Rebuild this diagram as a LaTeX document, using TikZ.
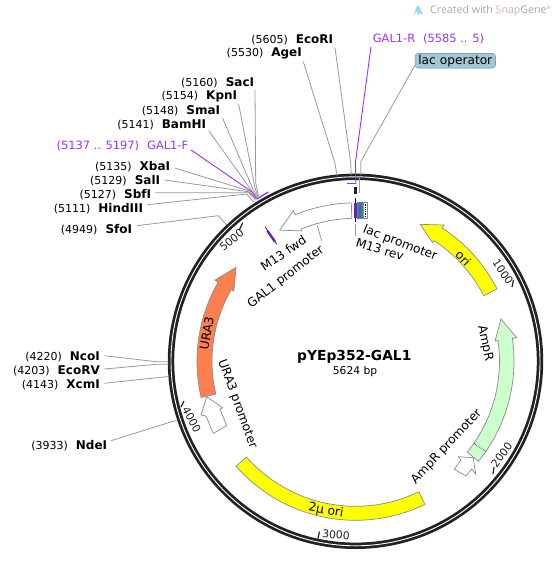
\documentclass[tikz,border=0pt]{standalone}
\usepackage{fontspec}
\usepackage{tikz}
\usepackage{xcolor}
\setmainfont{DejaVu Sans}
\newfontfamily\wmfont{Open Sans}
\definecolor{ringblack}{HTML}{222222}
\definecolor{leadgray}{HTML}{999999}
\definecolor{edgegray}{HTML}{8A8A8A}
\definecolor{primerpurple}{HTML}{9B30FF}
\definecolor{oriyellow}{HTML}{FFFF00}
\definecolor{amprgreen}{HTML}{CCFFCC}
\definecolor{uraorange}{HTML}{FF7F4F}
\definecolor{opblue}{HTML}{A3C8D4}
\definecolor{opedge}{HTML}{4A8A9E}
\tikzset{
  site/.style={anchor=east, inner sep=0pt, font=\fontsize{11}{12}\selectfont},
  primer/.style={inner sep=0pt, text=primerpurple, font=\fontsize{11.4}{13}\selectfont},
  featlabel/.style={inner sep=0pt, font=\fontsize{12.2}{14}\selectfont},
  ticklabel/.style={inner sep=0pt, text=ringblack, font=\fontsize{10.8}{12}\selectfont},
  lead/.style={draw=leadgray, line width=0.8pt},
  primerlead/.style={draw=primerpurple, line width=0.9pt},
  band/.style={draw=edgegray, line width=0.7pt},
  tickmark/.style={draw=ringblack, line width=1.2pt}
}
\newcommand{\sitetext}[2]{(#1)\hspace{8pt}{\fontsize{12}{12}\selectfont\textbf{#2}}}
\begin{document}
\begin{tikzpicture}[x=1pt,y=-1pt]
    \useasboundingbox (0,0) rectangle (557,576);
    \coordinate (cen) at (355.5,361.3);
    % backbone
    \draw[ringblack, line width=6.4pt] (cen) circle[radius=184.5];
    \draw[white, line width=0.9pt] (cen) circle[radius=184.5];

    % features
    \begin{scope}[shift={(cen)}]
        \draw[band, fill=oriyellow] (-27.1:144) arc[start angle=-27.1, end angle=-57, radius=144] -- (-57:141.5) -- (-64.7:151.5) -- (-57:162.5) -- (-57:159) arc[start angle=-57, end angle=-27.1, radius=159] -- cycle;
        \draw[band, fill=amprgreen] (39.1:144) arc[start angle=39.1, end angle=-8.3, radius=144] -- (-8.3:141) -- (-16.2:151.5) -- (-8.3:163) -- (-8.3:158.5) arc[start angle=-8.3, end angle=39.1, radius=158.5] -- cycle;
        \draw[black, densely dotted, line width=0.6pt] (34.7:144) -- (34.7:158.5);
        \draw[band, fill=oriyellow] (64.1:145) arc[start angle=64.1, end angle=138.7, radius=145] -- (138.7:159) arc[start angle=138.7, end angle=64.1, radius=159] -- cycle;
        \draw[band, fill=uraorange] (166.8:143.5) arc[start angle=166.8, end angle=210, radius=143.5] -- (210:140.5) -- (218.2:152) -- (210:162.3) -- (210:158.5) arc[start angle=210, end angle=166.8, radius=158.5] -- cycle;
        \draw[band, fill=white] (268.5:143) arc[start angle=268.5, end angle=247.6, radius=143] -- (247.6:141) -- (240:151.5) -- (247.6:163) -- (247.6:158.5) arc[start angle=247.6, end angle=268.5, radius=158.5] -- cycle;
    \end{scope}

    % small promoter arrows
    \draw[band, fill=white] (206.7,396.7) -- (222.7,407.7) -- (220,409) -- (226.7,425.7) -- (213.3,433.3) -- (206,416) -- (201,415) -- cycle;
    \draw[band, fill=white] (473.3,457.7) -- (458.3,456.7) -- (461,460) -- (454.3,469.3) -- (466,476) -- (471.7,469) -- (475.7,474.3) -- cycle;

    % stack at the top of the circle
    \fill[primerpurple!70!black] (354.3,202.7) rectangle (357.7,218.3);
    \draw[opedge, fill=opedge!85!black, line width=0.5pt] (357.7,202.7) rectangle (362,218.3);
    \draw[band, fill=white] (363.5,202.7) rectangle (367.8,218.3);
    \draw[black, densely dotted, line width=0.8pt] (365.6,203.5) -- (365.6,217.5);
    \draw[black, line width=0.7pt] (355.3,198) -- (355.3,202.7);
    \draw[black, line width=0.7pt] (355.3,218.3) -- (355.3,222);
    \fill[ringblack] (354,186.5) rectangle (357,193.7);
    \draw[primerlead, line width=1.4pt] (347.3,183.7) -- (356,183.7);
    \draw[lead] (359.5,176) -- (359.5,193);

    % M13 fwd
    \draw[ringblack, line width=0.7pt] (265,226.7) -- (276.7,244.3);
    \draw[primerpurple!70!black, line width=2.4pt] (267.3,230.7) -- (275,241.7);

    % restriction sites
    \node[site] (sacI) at (254.3,82.7) {\sitetext{5160}{SacI}};
    \node[site] (kpnI) at (237.3,96.7) {\sitetext{5154}{KpnI}};
    \node[site] (smaI) at (220.3,110.7) {\sitetext{5148}{SmaI}};
    \node[site] (bamHI) at (206.3,124.7) {\sitetext{5141}{BamHI}};
    \node[site] (xbaI) at (170.3,166.7) {\sitetext{5135}{XbaI}};
    \node[site] (salI) at (160.3,180.7) {\sitetext{5129}{SalI}};
    \node[site] (sbfI) at (151.3,194.7) {\sitetext{5127}{SbfI}};
    \node[site] (hindIII) at (143.3,208.7) {\sitetext{5111}{HindIII}};
    \node[site] (sfoI) at (132.3,229.7) {\sitetext{4949}{SfoI}};
    \node[site] (ecoRI) at (333.3,39.7) {\sitetext{5605}{EcoRI}};
    \node[site] (ageI) at (302,53.7) {\sitetext{5530}{AgeI}};
    \node[site] (ncoI) at (100,356.7) {\sitetext{4220}{NcoI}};
    \node[site] (ecoRV) at (100,370.7) {\sitetext{4203}{EcoRV}};
    \node[site] (xcmI) at (100,384.7) {\sitetext{4143}{XcmI}};
    \node[site] (ndeI) at (107.3,445.7) {\sitetext{3933}{NdeI}};

    \coordinate (sacA) at (255.7,183);   \coordinate (sacB) at (258.5,196);
    \coordinate (kpnA) at (255,188);     \coordinate (kpnB) at (258,196.5);
    \coordinate (smaA) at (253.3,190);   \coordinate (smaB) at (257.5,197);
    \coordinate (bamA) at (252.3,191.7); \coordinate (bamB) at (257,197.5);
    \coordinate (xbaA) at (248.3,190.7); \coordinate (xbaB) at (256,198);
    \coordinate (salA) at (248.3,191.7); \coordinate (salB) at (255.5,199);
    \coordinate (sbfA) at (248.3,192.7); \coordinate (sbfB) at (255.5,199.5);
    \coordinate (hinA) at (246.7,194);   \coordinate (hinB) at (253.5,202);
    \coordinate (sfoA) at (218.3,215.7); \coordinate (sfoB) at (226.7,225);
    \coordinate (ecoA) at (350.7,163.3); \coordinate (ecoB) at (351.3,175);
    \coordinate (ageA) at (335,163.3);   \coordinate (ageB) at (337,175.5);
    \coordinate (ncoA) at (156.7,361.7); \coordinate (ncoB) at (168.3,361.7);
    \coordinate (ecvA) at (156.7,364.3); \coordinate (ecvB) at (168.3,364.3);
    \coordinate (xcmA) at (166.7,376.7); \coordinate (xcmB) at (169,376.7);
    \coordinate (ndeA) at (171.7,421.7); \coordinate (ndeB) at (176.7,420.7);

    \draw[lead] (sacI.east) ++(0.7,7.3) -- (sacA) -- (sacB);
    \draw[lead] (kpnI.east) ++(1.4,7.6) -- (kpnA) -- (kpnB);
    \draw[lead] (smaI.east) ++(2.4,7.6) -- (smaA) -- (smaB);
    \draw[lead] (bamHI.east) ++(2.4,6) -- (bamA) -- (bamB);
    \draw[lead] (xbaI.east) ++(4.4,1.3) -- (xbaA) -- (xbaB);
    \draw[lead] (salI.east) ++(4.4,-0.7) -- (salA) -- (salB);
    \draw[lead] (sbfI.east) ++(4,-2) -- (sbfA) -- (sbfB);
    \draw[lead] (hindIII.east) ++(4.4,-4) -- (hinA) -- (hinB);
    \draw[lead] (sfoI.east) ++(4.4,-4) -- (sfoA) -- (sfoB);
    \draw[lead] (ecoRI.east) ++(1.7,8) -- (ecoA) -- (ecoB);
    \draw[lead] (ageI.east) ++(1.3,8) -- (ageA) -- (ageB);
    \draw[lead] (ncoI.east) ++(4.3,-1) -- (ncoA) -- (ncoB);
    \draw[lead] (ecoRV.east) ++(4.3,-1.7) -- (ecvA) -- (ecvB);
    \draw[lead] (xcmI.east) ++(4.3,-1.4) -- (xcmA) -- (xcmB);
    \draw[lead] (ndeI.east) ++(3.7,-5) -- (ndeA) -- (ndeB);

    % primers
    \node[primer, anchor=east] (galF) at (188.3,146) {(5137 .. 5197)\hspace{8pt}GAL1-F};
    \node[primer, anchor=west] (galR) at (372.7,39) {GAL1-R\hspace{8pt}(5585 .. 5)};
    \coordinate (galFa) at (251.7,191.7);
    \coordinate (galFb) at (256.7,199);
    \coordinate (galFc) at (268.3,192);
    \coordinate (galRa) at (355.3,163.3);
    \coordinate (galRb) at (356,183.7);
    \draw[primerlead] (galF.east) ++(2.4,3.7) -- (galFa) -- (galFb);
    \draw[primerlead, line width=1.4pt] (galFb) -- (galFc);
    \draw[primerlead] (galR.west) ++(-1.7,7.7) -- (galRa) -- (galRb);

    % lac operator
    \node[draw=opedge, fill=opblue, rounded corners=3.5pt, inner sep=0pt, minimum width=80.7pt, minimum height=14.7pt, font=\fontsize{12.2}{14}\selectfont] (lacop) at (455.3,60.7) {lac operator};
    \coordinate (lacA) at (360.7,161.7);
    \coordinate (lacB) at (360.7,175);
    \draw[lead] (lacop.west) ++(0,5) -- (lacA) -- (lacB);

    % feature leaders
    \coordinate (m13a) at (355.3,224);
    \coordinate (m13b) at (355.3,236);
    \coordinate (gala) at (317.3,225.7);
    \coordinate (galb) at (321.7,240.7);
    \draw[lead] (m13a) -- (m13b);
    \draw[lead] (gala) -- (galb);

    % feature labels
    \node[featlabel, rotate=-46] (oriL) at (463.3,258.3) {ori};
    \node[featlabel, rotate=-78] (amprL) at (485,343.3) {AmpR};
    \node[featlabel, rotate=47] (amprpL) at (446.7,446.7) {AmpR promoter};
    \node[featlabel, rotate=-10] (twomuL) at (326,510.7) {2µ ori};
    \node[featlabel, rotate=80] (uraL) at (206.7,333.3) {URA3};
    \node[featlabel, rotate=-70] (urapL) at (237.3,404) {URA3 promoter};
    \node[featlabel, rotate=38] (galpL) at (286,277) {GAL1 promoter};
    \node[featlabel, rotate=34] (m13fL) at (283.3,253.3) {M13 fwd};
    \node[featlabel, rotate=-21] (lacpL) at (400,243.3) {lac promoter};
    \node[featlabel, rotate=-17] (m13rL) at (380,249.3) {M13 rev};

    % scale ticks
    \draw[tickmark] (512,287) -- (513.5,280);
    \draw[tickmark] (493,474) -- (494,467);
    \draw[tickmark] (318,538.5) -- (319.5,531.5);
    \draw[tickmark] (181,407) -- (184,401);
    \draw[tickmark] (239.3,230) -- (242.7,222.7);
    \node[ticklabel, rotate=-56] (t1000) at (503,272) {1000};
    \node[ticklabel, rotate=53] (t2000) at (501.7,455) {2000};
    \node[ticklabel, rotate=-4] (t3000) at (336,535) {3000};
    \node[ticklabel, rotate=-62] (t4000) at (191.7,420) {4000};
    \node[ticklabel, rotate=40] (t5000) at (231.7,240) {5000};

    % name in the middle
    \node[inner sep=0pt, font=\fontsize{13.8}{16}\selectfont\bfseries] (plname) at (354.3,357.3) {pYEp352-GAL1};
    \node[inner sep=0pt, font=\fontsize{10.7}{12}\selectfont] (plsize) at (355,372) {5624 bp};

    % watermark
    \fill[cyan!45] (413.5,15.5) -- (417,6) -- (419,6) -- (423,15) -- (420,13) -- (418,15.5) -- (417,11) -- cycle;
    \node[anchor=west, inner sep=0pt, text=black!35, font=\wmfont\fontsize{10.6}{12}\selectfont] (wmark) at (430,10.5) {Created with \textcolor{red!35!black!30!white}{Snap}Gene\textsuperscript{\tiny®}};
\end{tikzpicture}
\end{document}
